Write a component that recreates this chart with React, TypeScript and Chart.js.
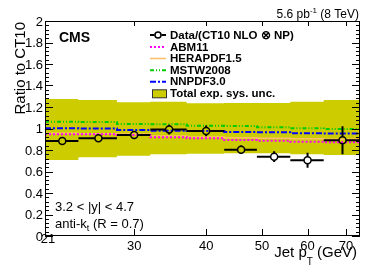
import React, { useEffect, useRef } from "react";
import { Chart, registerables } from "chart.js";

Chart.register(...registerables);

// ---- data ----
const binEdges = [21, 24, 28, 32, 37, 43, 49, 56, 64, 74];
const dataRatio = [0.884, 0.909, 0.94, 0.99, 0.977, 0.803, 0.738, 0.704, 0.89];
const dataErr = [0.01, 0.01, 0.015, 0.045, 0.05, 0.04, 0.05, 0.07, 0.13];
const bandUpper = [1.274, 1.265, 1.244, 1.249, 1.234, 1.237, 1.237, 1.249, 1.265];
const bandLower = [0.707, 0.732, 0.747, 0.76, 0.766, 0.769, 0.769, 0.76, 0.753];
const abm11 = [0.946, 0.946, 0.94, 0.918, 0.909, 0.893, 0.887, 0.877, 0.872];
const herapdf15 = [0.955, 0.952, 0.948, 0.93, 0.922, 0.915, 0.91, 0.905, 0.9];
const mstw2008 = [1.063, 1.06, 1.042, 1.039, 1.026, 1.024, 1.011, 1.002, 0.995];
const nnpdf30 = [1.002, 1.0, 0.986, 0.98, 0.977, 0.967, 0.965, 0.955, 0.953];
const xTickValues = [21, 30, 40, 50, 60, 70];
const yTickValues = [0, 0.2, 0.4, 0.6, 0.8, 1, 1.2, 1.4, 1.6, 1.8, 2];
const yTickLabels = ["0", "0.2", "0.4", "0.6", "0.8", "1", "1.2", "1.4", "1.6", "1.8", "2"];
const legendLabels = [
  "Data/(CT10 NLO \u2297 NP)",
  "ABM11",
  "HERAPDF1.5",
  "MSTW2008",
  "NNPDF3.0",
  "Total exp. sys. unc.",
];

const FONT = "'Liberation Sans', Arial, Helvetica, sans-serif";
const BAND = "#cccc00";
const C_ABM = "#ff00ff";
const C_HERA = "#ffbf66";
const C_MSTW = "#00cc00";
const C_NNPDF = "#0000ff";
const D_ABM = [2, 2];
const D_HERA: number[] = [];
const D_MSTW = [4, 2, 1, 2, 1, 2];
const D_NNPDF = [6, 2, 2, 2];

function stepPoints(vals: number[]) {
  return binEdges.map((x, i) => ({ x, y: vals[Math.min(i, vals.length - 1)] }));
}

type Part = { t: string; size: number; dy?: number; bold?: boolean };
function drawRich(ctx: CanvasRenderingContext2D, parts: Part[], x: number, y: number, align: "left" | "right") {
  let total = 0;
  const widths = parts.map((p) => {
    ctx.font = `${p.bold ? "bold " : ""}${p.size}px ${FONT}`;
    const w = ctx.measureText(p.t).width;
    total += w;
    return w;
  });
  let cx = align === "left" ? x : x - total;
  ctx.textAlign = "left";
  ctx.textBaseline = "alphabetic";
  parts.forEach((p, i) => {
    ctx.font = `${p.bold ? "bold " : ""}${p.size}px ${FONT}`;
    ctx.fillText(p.t, cx, y + (p.dy || 0));
    cx += widths[i];
  });
}

const rootPlugin = {
  id: "rootStyle",
  afterDatasetsDraw(chart: any) {
    const ctx: CanvasRenderingContext2D = chart.ctx;
    const xs = chart.scales.x;
    const ys = chart.scales.y;
    const r = 3.5;
    ctx.save();
    ctx.strokeStyle = "#000";
    ctx.lineWidth = 2;
    for (let i = 0; i < dataRatio.length; i++) {
      const lo = xs.getPixelForValue(binEdges[i]);
      const hi = xs.getPixelForValue(binEdges[i + 1]);
      const cx = xs.getPixelForValue((binEdges[i] + binEdges[i + 1]) / 2);
      const cy = ys.getPixelForValue(dataRatio[i]);
      const top = ys.getPixelForValue(dataRatio[i] + dataErr[i]);
      const bot = ys.getPixelForValue(dataRatio[i] - dataErr[i]);
      ctx.beginPath();
      ctx.moveTo(lo, cy);
      ctx.lineTo(cx - r, cy);
      ctx.moveTo(cx + r, cy);
      ctx.lineTo(hi, cy);
      if (cy - top > r) {
        ctx.moveTo(cx, top);
        ctx.lineTo(cx, cy - r);
      }
      if (bot - cy > r) {
        ctx.moveTo(cx, cy + r);
        ctx.lineTo(cx, bot);
      }
      ctx.stroke();
    }
    ctx.restore();
  },
  afterDraw(chart: any) {
    const ctx: CanvasRenderingContext2D = chart.ctx;
    const xs = chart.scales.x;
    const ys = chart.scales.y;
    const a = chart.chartArea;
    ctx.save();
    ctx.strokeStyle = "#000";
    ctx.fillStyle = "#000";
    ctx.lineWidth = 1;
    // frame
    ctx.strokeRect(a.left + 0.5, a.top + 0.5, a.right - a.left - 1, a.bottom - a.top - 1);
    // y ticks (major + minor), both sides
    ctx.beginPath();
    for (let k = 0; k <= 50; k++) {
      const v = k * 0.04;
      const py = Math.round(ys.getPixelForValue(v)) + 0.5;
      const len = k % 5 === 0 ? 8 : 4;
      ctx.moveTo(a.left, py);
      ctx.lineTo(a.left + len, py);
      ctx.moveTo(a.right, py);
      ctx.lineTo(a.right - len, py);
    }
    // x ticks bottom and top
    xTickValues.forEach((v) => {
      const px = Math.round(xs.getPixelForValue(v)) + 0.5;
      ctx.moveTo(px, a.bottom);
      ctx.lineTo(px, a.bottom - 7);
      ctx.moveTo(px, a.top);
      ctx.lineTo(px, a.top + 5);
    });
    ctx.stroke();

    // y tick labels
    ctx.font = `13px ${FONT}`;
    ctx.textAlign = "right";
    ctx.textBaseline = "alphabetic";
    yTickValues.forEach((v, i) => {
      ctx.fillText(yTickLabels[i], a.left - 2, ys.getPixelForValue(v) + 4.6);
    });
    // x tick labels
    ctx.textAlign = "center";
    xTickValues.forEach((v, i) => {
      const px = xs.getPixelForValue(v);
      if (i === 0) ctx.fillText(String(v), px + 3, a.bottom + 7);
      else ctx.fillText(String(v), px, a.bottom + 14);
    });

    // axis titles
    ctx.save();
    ctx.translate(25, a.top + 1);
    ctx.rotate(-Math.PI / 2);
    ctx.font = `15px ${FONT}`;
    ctx.textAlign = "right";
    ctx.textBaseline = "alphabetic";
    ctx.fillText("Ratio to CT10", 0, 0);
    ctx.restore();

    drawRich(
      ctx,
      [
        { t: "Jet p", size: 15 },
        { t: "T", size: 10, dy: 8 },
        { t: " (GeV)", size: 15 },
      ],
      357,
      256.5,
      "right"
    );

    drawRich(
      ctx,
      [
        { t: "5.6 pb", size: 12 },
        { t: "-1", size: 8, dy: -5 },
        { t: " (8 TeV)", size: 12 },
      ],
      359,
      18,
      "right"
    );

    // CMS label
    ctx.font = `bold 14px ${FONT}`;
    ctx.textAlign = "left";
    ctx.fillText("CMS", 59, 42);

    // bottom-left text
    ctx.font = `13px ${FONT}`;
    ctx.fillText("3.2 < |y| < 4.7", 55, 211);
    drawRich(
      ctx,
      [
        { t: "anti-k", size: 13 },
        { t: "t", size: 9, dy: 3 },
        { t: " (R = 0.7)", size: 13 },
      ],
      55,
      227.5,
      "left"
    );

    // legend
    const lx0 = 150;
    const lx1 = 166;
    const tx = 170;
    const rows = [35, 47, 58.5, 70.3, 81.7, 93.3];
    // data entry
    ctx.strokeStyle = "#000";
    ctx.lineWidth = 2;
    ctx.setLineDash([]);
    ctx.beginPath();
    ctx.moveTo(lx0, rows[0]);
    ctx.lineTo(154.5, rows[0]);
    ctx.moveTo(161.5, rows[0]);
    ctx.lineTo(lx1, rows[0]);
    ctx.stroke();
    ctx.lineWidth = 1.5;
    ctx.beginPath();
    ctx.arc(158, rows[0], 3, 0, Math.PI * 2);
    ctx.stroke();
    const lineEntries: [string, number[], number][] = [
      [C_ABM, D_ABM, 2],
      [C_HERA, D_HERA, 1.5],
      [C_MSTW, D_MSTW, 2],
      [C_NNPDF, D_NNPDF, 2],
    ];
    lineEntries.forEach(([c, d, w], i) => {
      ctx.strokeStyle = c;
      ctx.lineWidth = w;
      ctx.setLineDash(d);
      ctx.beginPath();
      ctx.moveTo(lx0, rows[i + 1]);
      ctx.lineTo(lx1, rows[i + 1]);
      ctx.stroke();
    });
    ctx.setLineDash([]);
    ctx.fillStyle = BAND;
    ctx.fillRect(152.5, rows[5] - 3.5, 14, 8);
    ctx.strokeStyle = "#333";
    ctx.lineWidth = 1;
    ctx.strokeRect(152.5, rows[5] - 3.5, 14, 8);
    ctx.fillStyle = "#000";
    ctx.font = `bold 11.5px ${FONT}`;
    ctx.textAlign = "left";
    ctx.textBaseline = "middle";
    legendLabels.forEach((l, i) => ctx.fillText(l, tx, rows[i] + 0.5));
    ctx.restore();
  },
};

export default function App() {
  const ref = useRef<HTMLCanvasElement | null>(null);
  useEffect(() => {
    if (!ref.current) return;
    const lineDs = (label: string, vals: number[], color: string, dash: number[], w: number) => ({
      label,
      data: stepPoints(vals),
      borderColor: color,
      borderDash: dash,
      borderWidth: w,
      pointRadius: 0,
      stepped: true,
      fill: false,
      order: 5,
    });
    const chart = new Chart(ref.current, {
      type: "line",
      data: {
        datasets: [
          {
            label: "Data",
            data: dataRatio.map((y, i) => ({ x: (binEdges[i] + binEdges[i + 1]) / 2, y })),
            showLine: false,
            pointRadius: 3.5,
            pointBorderWidth: 1.5,
            pointBorderColor: "#000",
            pointBackgroundColor: "rgba(0,0,0,0)",
            borderColor: "#000",
            order: 1,
          },
          lineDs("ABM11", abm11, C_ABM, D_ABM, 2),
          lineDs("HERAPDF1.5", herapdf15, C_HERA, D_HERA, 1.5),
          lineDs("MSTW2008", mstw2008, C_MSTW, D_MSTW, 2),
          lineDs("NNPDF3.0", nnpdf30, C_NNPDF, D_NNPDF, 2),
          {
            label: "Total exp. sys. unc.",
            data: stepPoints(bandUpper),
            borderWidth: 0,
            borderColor: BAND,
            backgroundColor: BAND,
            pointRadius: 0,
            stepped: true,
            fill: "+1",
            order: 10,
          },
          {
            label: "band lower",
            data: stepPoints(bandLower),
            borderWidth: 0,
            borderColor: BAND,
            pointRadius: 0,
            stepped: true,
            fill: false,
            order: 11,
          },
        ],
      } as any,
      options: {
        animation: false,
        responsive: false,
        layout: { padding: { left: 45, right: 14, top: 21, bottom: 34 } },
        plugins: { legend: { display: false }, tooltip: { enabled: false } },
        scales: {
          x: { type: "logarithmic", min: 21, max: 74, display: false },
          y: { type: "linear", min: 0, max: 2, display: false },
        },
      } as any,
      plugins: [rootPlugin],
    });
    return () => chart.destroy();
  }, []);
  return (
    <div style={{ position: "absolute", left: 0, top: 0, width: 374, height: 270, background: "#fff" }}>
      <canvas ref={ref} width={374} height={270} style={{ display: "block" }} />
    </div>
  );
}
